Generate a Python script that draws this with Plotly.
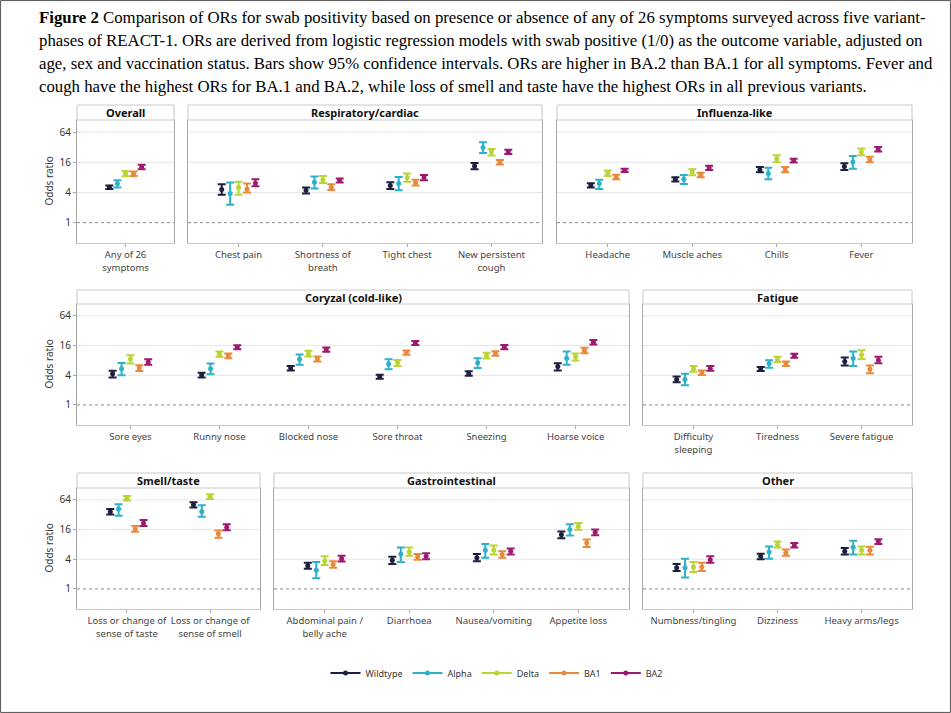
import math
import plotly.graph_objects as go

W, H = 951, 713

# ---------------- data ----------------
SYMPTOMS = [
    "Any of 26<br>symptoms",
    "Chest pain", "Shortness of<br>breath", "Tight chest", "New persistent<br>cough",
    "Headache", "Muscle aches", "Chills", "Fever",
    "Sore eyes", "Runny nose", "Blocked nose", "Sore throat", "Sneezing", "Hoarse voice",
    "Difficulty<br>sleeping", "Tiredness", "Severe fatigue",
    "Loss or change of<br>sense of taste", "Loss or change of<br>sense of smell",
    "Abdominal pain /<br>belly ache", "Diarrhoea", "Nausea/vomiting", "Appetite loss",
    "Numbness/tingling", "Dizziness", "Heavy arms/legs",
]
GROUP_OF = (["Overall"] + ["Respiratory/cardiac"] * 4 + ["Influenza-like"] * 4
            + ["Coryzal (cold-like)"] * 6 + ["Fatigue"] * 3 + ["Smell/taste"] * 2
            + ["Gastrointestinal"] * 4 + ["Other"] * 3)

VARIANTS = ["Wildtype", "Alpha", "Delta", "BA1", "BA2"]

OR_WILDTYPE = [5.1, 4.6, 4.4, 5.5, 13.5, 5.5, 7.3, 11.4, 13.1, 4.3, 4.06, 5.6, 3.76, 4.3, 6.0, 3.3, 5.4, 7.6, 36.8, 50.8, 2.94, 3.8, 4.3, 12.5, 2.7, 4.6, 5.8]
LO_WILDTYPE = [4.7, 3.6, 3.8, 4.7, 11.6, 5.0, 6.6, 10.1, 11.2, 3.59, 3.6, 5.0, 3.4, 3.9, 5.0, 2.9, 4.9, 6.3, 32.5, 45.0, 2.56, 3.2, 3.65, 10.7, 2.3, 4.0, 5.0]
HI_WILDTYPE = [5.5, 5.8, 5.0, 6.4, 15.5, 6.1, 8.0, 12.9, 15.3, 4.96, 4.5, 6.2, 4.1, 4.8, 7.0, 3.76, 5.9, 9.2, 41.6, 57.4, 3.4, 4.5, 5.1, 14.6, 3.2, 5.2, 6.8]

OR_ALPHA = [6.0, 3.8, 6.4, 6.0, 31.6, 6.0, 7.3, 9.5, 16.2, 5.4, 5.4, 8.4, 6.8, 7.2, 8.9, 3.27, 6.9, 8.9, 41.6, 37.3, 2.4, 5.1, 6.1, 16.0, 2.7, 5.6, 7.0]
LO_ALPHA = [5.0, 2.26, 4.8, 4.4, 24.6, 4.7, 5.9, 7.3, 11.9, 4.0, 4.2, 6.5, 5.3, 5.6, 6.5, 2.5, 5.7, 6.2, 30.5, 29.2, 1.64, 3.5, 4.3, 12.1, 1.7, 4.1, 5.0]
HI_ALPHA = [7.0, 6.3, 8.3, 8.1, 40.0, 7.2, 8.9, 12.5, 21.3, 7.1, 6.9, 10.6, 8.4, 8.9, 12.1, 4.3, 8.1, 12.1, 52.4, 50.0, 3.5, 6.9, 8.2, 20.5, 4.1, 7.3, 9.5]

OR_DELTA = [9.5, 5.0, 7.2, 7.9, 25.8, 9.8, 10.2, 18.9, 25.8, 8.5, 10.7, 10.9, 7.3, 10.1, 9.5, 5.4, 8.4, 10.4, 69.0, 74.6, 3.7, 5.6, 6.2, 18.7, 2.8, 8.0, 6.1]
LO_DELTA = [8.4, 3.6, 6.2, 6.5, 21.8, 8.5, 8.8, 16.0, 22.0, 6.9, 9.5, 9.6, 6.2, 8.8, 8.0, 4.7, 7.4, 8.5, 62.0, 67.0, 3.07, 4.7, 5.0, 15.8, 2.2, 6.9, 5.0]
HI_DELTA = [10.7, 6.5, 8.5, 9.6, 29.5, 11.0, 11.6, 22.0, 30.2, 10.2, 12.1, 12.5, 8.2, 11.4, 11.1, 6.2, 9.5, 12.9, 77.0, 83.0, 4.6, 6.9, 7.6, 21.8, 3.5, 9.2, 7.3]

OR_BA1 = [9.5, 4.7, 5.1, 6.3, 16.0, 8.1, 8.9, 11.4, 18.1, 5.6, 9.9, 8.6, 11.6, 11.0, 12.7, 4.5, 6.9, 5.3, 16.5, 13.1, 3.12, 4.5, 5.0, 8.5, 2.8, 5.4, 6.1]
LO_BA1 = [8.5, 4.0, 4.5, 5.5, 14.4, 7.3, 8.0, 10.1, 16.0, 4.9, 8.9, 7.6, 10.4, 9.9, 11.2, 4.06, 6.2, 4.4, 14.4, 10.9, 2.68, 3.9, 4.3, 7.1, 2.3, 4.7, 5.0]
HI_BA1 = [10.5, 6.0, 5.8, 7.2, 17.8, 9.0, 9.9, 12.9, 20.5, 6.4, 11.1, 9.6, 12.7, 12.3, 14.4, 5.0, 7.6, 6.3, 18.9, 15.3, 3.65, 5.1, 5.8, 10.1, 3.4, 6.3, 7.2]

OR_BA2 = [12.9, 6.1, 7.0, 7.9, 25.8, 11.0, 12.5, 17.3, 29.2, 7.4, 14.8, 13.1, 18.1, 14.8, 18.7, 5.5, 9.9, 8.1, 21.8, 17.8, 4.1, 4.6, 5.8, 14.1, 3.9, 7.6, 9.2]
LO_BA2 = [11.6, 5.3, 6.3, 7.0, 23.5, 10.2, 11.2, 15.8, 26.2, 6.5, 13.5, 12.0, 16.5, 13.5, 16.8, 4.96, 9.1, 7.0, 18.9, 15.5, 3.6, 4.0, 5.0, 12.3, 3.4, 6.9, 8.2]
HI_BA2 = [14.2, 7.3, 7.6, 8.9, 28.3, 11.9, 13.7, 18.9, 32.4, 8.4, 16.2, 14.6, 19.8, 16.5, 20.8, 6.2, 10.9, 9.5, 25.0, 20.5, 4.7, 5.3, 6.6, 16.0, 4.6, 8.5, 10.2]

Y_TICKS = [1, 4, 16, 64]
Y_TICK_TEXT = ["1", "4", "16", "64"]

CAPTION = [
    "<b>Figure 2</b> Comparison of ORs for swab positivity based on presence or absence of any of 26 symptoms surveyed across five variant-",
    "phases of REACT-1. ORs are derived from logistic regression models with swab positive (1/0) as the outcome variable, adjusted on",
    "age, sex and vaccination status. Bars show 95% confidence intervals. ORs are higher in BA.2 than BA.1 for all symptoms. Fever and",
    "cough have the highest ORs for BA.1 and BA.2, while loss of smell and taste have the highest ORs in all previous variants.",
]

# ---------------- styling / layout ----------------
COLORS = {"Wildtype": "#1d1f3f", "Alpha": "#2db1ca", "Delta": "#b9d433",
          "BA1": "#e9893b", "BA2": "#9c1b70"}
SERIES = {
    "Wildtype": (OR_WILDTYPE, LO_WILDTYPE, HI_WILDTYPE),
    "Alpha": (OR_ALPHA, LO_ALPHA, HI_ALPHA),
    "Delta": (OR_DELTA, LO_DELTA, HI_DELTA),
    "BA1": (OR_BA1, LO_BA1, HI_BA1),
    "BA2": (OR_BA2, LO_BA2, HI_BA2),
}
DODGE = [-0.2, -0.1, 0.0, 0.1, 0.2]

# rows: (strip top, plot top, plot bottom) in px
ROWS = [(105, 120, 243), (290, 304, 425), (473, 488, 609)]
# panels: (name, row, x0 px, x1 px, show y labels)
PANELS = [
    ("Overall", 0, 77, 174, True),
    ("Respiratory/cardiac", 0, 188, 542, False),
    ("Influenza-like", 0, 557, 912, False),
    ("Coryzal (cold-like)", 1, 77, 629, True),
    ("Fatigue", 1, 643, 912, False),
    ("Smell/taste", 2, 77, 260, True),
    ("Gastrointestinal", 2, 274, 629, False),
    ("Other", 2, 643, 912, False),
]

YR = [math.log10(2 ** -1.35), math.log10(2 ** 6.8)]

fig = go.Figure()
layout = {}
shapes = []
annotations = []
FONT = "Noto Sans"

for k, (name, row, x0, x1, showy) in enumerate(PANELS):
    ax = "" if k == 0 else str(k + 1)
    st, pt, pb = ROWS[row]
    idx = [i for i, g in enumerate(GROUP_OF) if g == name]
    n = len(idx)
    for vi, v in enumerate(VARIANTS):
        orv, lo, hi = SERIES[v]
        ys = [orv[i] for i in idx]
        fig.add_trace(go.Scatter(
            x=[j + DODGE[vi] for j in range(n)], y=ys,
            mode="markers",
            marker=dict(color=COLORS[v], size=5),
            error_y=dict(type="data", symmetric=False,
                         array=[hi[i] - orv[i] for i in idx],
                         arrayminus=[orv[i] - lo[i] for i in idx],
                         color=COLORS[v], thickness=2, width=4),
            xaxis="x" + ax, yaxis="y" + ax, showlegend=False, name=v,
        ))
    layout["xaxis" + ax] = dict(
        domain=[x0 / W, x1 / W], anchor="y" + ax, range=[-0.6, n - 0.4],
        tickmode="array", tickvals=list(range(n)), ticktext=[SYMPTOMS[i] for i in idx],
        showgrid=False, zeroline=False, showline=True, mirror=True,
        linecolor="#c9c9c9", linewidth=1, ticks="outside", ticklen=3, tickcolor="#aaaaaa",
        tickfont=dict(family=FONT, size=9.5, color="#444444"), fixedrange=True,
    )
    layout["yaxis" + ax] = dict(
        domain=[1 - pb / H, 1 - pt / H], anchor="x" + ax, type="log", range=YR,
        tickmode="array", tickvals=Y_TICKS, ticktext=Y_TICK_TEXT,
        showticklabels=showy, showgrid=False, zeroline=False, showline=True, mirror=True,
        linecolor="#a8a8a8", linewidth=1, ticks="outside" if showy else "", ticklen=3,
        tickcolor="#aaaaaa", tickfont=dict(family=FONT, size=10, color="#333333"),
        fixedrange=True,
    )
    # gridlines
    for t in Y_TICKS[1:]:
        shapes.append(dict(type="line", xref="x" + ax + " domain", x0=0, x1=1,
                           yref="y" + ax, y0=t, y1=t, layer="below",
                           line=dict(color="#e6e6e6", width=1)))
    shapes.append(dict(type="line", xref="x" + ax + " domain", x0=0, x1=1,
                       yref="y" + ax, y0=1, y1=1, layer="below",
                       line=dict(color="#8a8a8a", width=1, dash="dot")))
    # strip
    shapes.append(dict(type="rect", xref="paper", yref="paper",
                       x0=x0 / W, x1=x1 / W, y0=1 - pt / H, y1=1 - st / H,
                       line=dict(color="#c9c9c9", width=1), fillcolor="white"))
    annotations.append(dict(xref="paper", yref="paper", x=(x0 + x1) / 2 / W,
                            y=1 - (st + pt) / 2 / H, text="<b>" + name + "</b>",
                            showarrow=False, xanchor="center", yanchor="middle",
                            font=dict(family=FONT, size=11, color="#111111")))

for row in ROWS:
    st, pt, pb = row
    annotations.append(dict(xref="paper", yref="paper", x=48 / W, y=1 - (pt + pb) / 2 / H,
                            text="Odds ratio", textangle=-90, showarrow=False,
                            xanchor="center", yanchor="middle",
                            font=dict(family=FONT, size=10, color="#333333")))

for li, line in enumerate(CAPTION):
    annotations.append(dict(xref="paper", yref="paper", x=37 / W, y=1 - (17 + 23.3 * li) / H,
                            text=line, showarrow=False, xanchor="left", yanchor="middle",
                            font=dict(family="Liberation Serif", size=16.8, color="#000000")))

# legend entries
for v in VARIANTS:
    fig.add_trace(go.Scatter(x=[None], y=[None], mode="lines+markers", name=v,
                             line=dict(color=COLORS[v], width=2),
                             marker=dict(color=COLORS[v], size=5), showlegend=True))

shapes.append(dict(type="rect", xref="paper", yref="paper", x0=0.0006, x1=0.9994,
                   y0=0.0008, y1=0.9992, line=dict(color="#555555", width=1)))

fig.update_layout(
    width=W, height=H, margin=dict(l=0, r=0, t=0, b=0),
    paper_bgcolor="white", plot_bgcolor="white",
    shapes=shapes, annotations=annotations,
    legend=dict(orientation="h", x=497 / W, xanchor="center", y=1 - 673 / H,
                yanchor="middle", font=dict(family=FONT, size=9, color="#333333"),
                itemwidth=30, bgcolor="rgba(0,0,0,0)"),
    **layout,
)

fig.write_html("out.html")
